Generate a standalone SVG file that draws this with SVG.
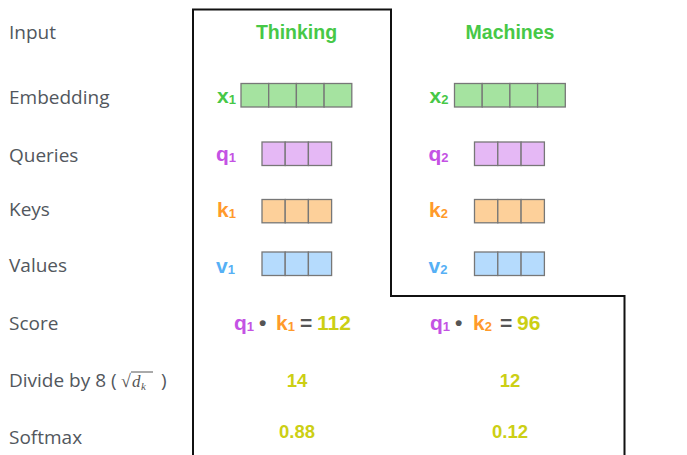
<svg xmlns="http://www.w3.org/2000/svg" width="687" height="455" viewBox="0 0 687 455">
<style>
.lbl{font-family:"Open Sans","Liberation Sans",sans-serif;font-size:19px;fill:#52575d}
.b{font-family:"Liberation Sans",Arial,sans-serif;font-weight:bold}
.hd{font-size:19.5px;fill:#47c847}
.sym{font-size:21px}
.sub{font-size:13px}
.g{fill:#47c847}.p{fill:#c452e4}.o{fill:#ff9a2b}.bl{fill:#56b0f5}.y{fill:#cccf14}.gr{fill:#555}
.num{font-size:18.5px;fill:#cccf14}
.cell{stroke:#777;stroke-width:1.3}
.ge{fill:#a5e3a0}.pe{fill:#e5b8f5}.oe{fill:#fdd09a}.be{fill:#b5dbfd}
.math{font-family:"Liberation Serif","DejaVu Serif",serif;fill:#555}
</style>
<rect width="687" height="455" fill="#fff"/>
<g id="connectors">
<path d="M193,455 V9.5 H391 V296 H624.5 V455" fill="none" stroke="#111" stroke-width="2"/>
</g>
<g id="row-labels">
<text class="lbl" x="9" y="39">Input</text>
<text class="lbl" x="9" y="103.5">Embedding</text>
<text class="lbl" x="9" y="161.5">Queries</text>
<text class="lbl" x="9" y="216">Keys</text>
<text class="lbl" x="9" y="272">Values</text>
<text class="lbl" x="9" y="329.5">Score</text>
<text class="lbl" x="9" y="387">Divide by 8 (</text>
<text class="math" x="121" y="387" font-size="18">√</text>
<line x1="131" y1="372" x2="153" y2="372" stroke="#555" stroke-width="1"/>
<text class="math" x="132" y="387" font-size="17" font-style="italic">d</text>
<text class="math" x="141" y="390" font-size="11" font-style="italic">k</text>
<text class="lbl" x="161" y="387">)</text>
<text class="lbl" x="9" y="444">Softmax</text>
</g>
<g id="word-thinking">
<text class="b hd" x="296.5" y="39.3" text-anchor="middle">Thinking</text>
<text class="b sym g" x="217" y="103">x<tspan class="sub" dy="1">1</tspan></text>
<g class="cell ge"><rect x="241" y="83.5" width="27.7" height="23.5"/><rect x="268.7" y="83.5" width="27.7" height="23.5"/><rect x="296.4" y="83.5" width="27.7" height="23.5"/><rect x="324.1" y="83.5" width="27.7" height="23.5"/></g>
<text class="b sym p" x="216" y="161">q<tspan class="sub" dy="1">1</tspan></text>
<g class="cell pe"><rect x="262" y="142" width="23.2" height="23.5"/><rect x="285.2" y="142" width="23.2" height="23.5"/><rect x="308.4" y="142" width="23.2" height="23.5"/></g>
<text class="b sym o" x="217" y="216.5">k<tspan class="sub" dy="1">1</tspan></text>
<g class="cell oe"><rect x="262" y="199.5" width="23.2" height="23.3"/><rect x="285.2" y="199.5" width="23.2" height="23.3"/><rect x="308.4" y="199.5" width="23.2" height="23.3"/></g>
<text class="b sym bl" x="216" y="273">v<tspan class="sub" dy="1">1</tspan></text>
<g class="cell be"><rect x="262" y="252" width="23.2" height="23.5"/><rect x="285.2" y="252" width="23.2" height="23.5"/><rect x="308.4" y="252" width="23.2" height="23.5"/></g>
<text class="b sym" y="329.5"><tspan class="p" x="234">q</tspan><tspan class="p sub" dy="1">1</tspan><tspan class="gr" x="259" dy="-1">•</tspan><tspan class="o" x="276">k</tspan><tspan class="o sub" dy="1">1</tspan><tspan class="gr" x="300" dy="-1">=</tspan><tspan class="y" x="317">112</tspan></text>
<text class="b num" x="297" y="387" text-anchor="middle">14</text>
<text class="b num" x="297" y="437.5" text-anchor="middle">0.88</text>
</g>
<g id="word-machines">
<text class="b hd" x="510" y="39.3" text-anchor="middle">Machines</text>
<text class="b sym g" x="429.5" y="103">x<tspan class="sub" dy="1">2</tspan></text>
<g class="cell ge"><rect x="454.5" y="83.5" width="27.7" height="23.5"/><rect x="482.2" y="83.5" width="27.7" height="23.5"/><rect x="509.9" y="83.5" width="27.7" height="23.5"/><rect x="537.6" y="83.5" width="27.7" height="23.5"/></g>
<text class="b sym p" x="428.5" y="161">q<tspan class="sub" dy="1">2</tspan></text>
<g class="cell pe"><rect x="474.5" y="142" width="23.3" height="23.5"/><rect x="497.8" y="142" width="23.3" height="23.5"/><rect x="521.1" y="142" width="23.3" height="23.5"/></g>
<text class="b sym o" x="429" y="216.5">k<tspan class="sub" dy="1">2</tspan></text>
<g class="cell oe"><rect x="474.5" y="199.5" width="23.3" height="23.3"/><rect x="497.8" y="199.5" width="23.3" height="23.3"/><rect x="521.1" y="199.5" width="23.3" height="23.3"/></g>
<text class="b sym bl" x="428.5" y="273">v<tspan class="sub" dy="1">2</tspan></text>
<g class="cell be"><rect x="474.5" y="252" width="23.3" height="23.5"/><rect x="497.8" y="252" width="23.3" height="23.5"/><rect x="521.1" y="252" width="23.3" height="23.5"/></g>
<text class="b sym" y="329.5"><tspan class="p" x="430">q</tspan><tspan class="p sub" dy="1">1</tspan><tspan class="gr" x="455" dy="-1">•</tspan><tspan class="o" x="473">k</tspan><tspan class="o sub" dy="1">2</tspan><tspan class="gr" x="500" dy="-1">=</tspan><tspan class="y" x="517">96</tspan></text>
<text class="b num" x="510" y="387" text-anchor="middle">12</text>
<text class="b num" x="510" y="437.5" text-anchor="middle">0.12</text>
</g>
</svg>
